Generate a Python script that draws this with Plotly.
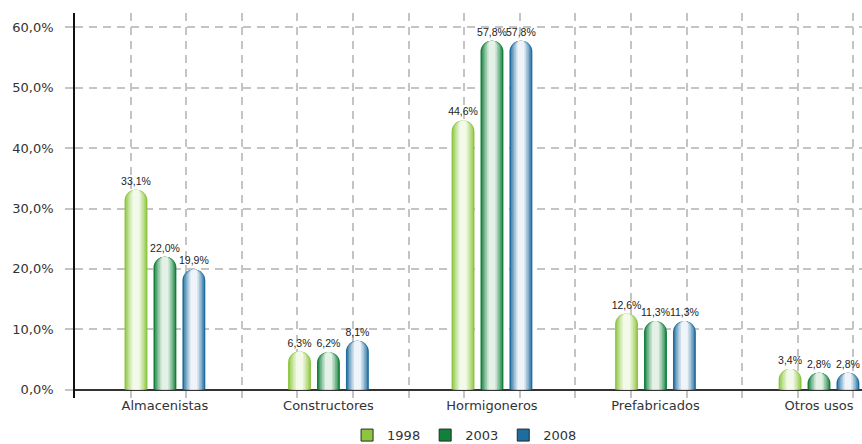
import plotly.graph_objects as go

# Market share by customer segment
categories = ["Almacenistas", "Constructores", "Hormigoneros", "Prefabricados", "Otros usos"]
years = ["1998", "2003", "2008"]
share_1998 = [33.1, 6.3, 44.6, 12.6, 3.4]
share_2003 = [22.0, 6.2, 57.8, 11.3, 2.8]
share_2008 = [19.9, 8.1, 57.8, 11.3, 2.8]
y_ticks = [0, 10, 20, 30, 40, 50, 60]

series = [share_1998, share_2003, share_2008]
# edge colour -> centre highlight for the cylinder look
edge_colors = ["#8cc63f", "#10803b", "#1f6c9e"]
centre_colors = ["#f4faea", "#e4f1e7", "#eef4f9"]

bar_w = 0.14
centres = [-0.177, 0.0, 0.177]
layer_fracs = [1.0, 0.86, 0.72, 0.58, 0.44, 0.30]


def hex_to_rgb(h):
    h = h.lstrip("#")
    return tuple(int(h[i:i + 2], 16) for i in (0, 2, 4))


def mix(c1, c2, t):
    a, b = hex_to_rgb(c1), hex_to_rgb(c2)
    return "rgb(%d,%d,%d)" % tuple(round(a[i] + (b[i] - a[i]) * t) for i in range(3))


def fmt(v):
    return ("%.1f" % v).replace(".", ",") + "%"


fig = go.Figure()

for s, vals in enumerate(series):
    n = len(layer_fracs)
    for k, f in enumerate(layer_fracs):
        w = bar_w * f
        t = (k / (n - 1)) ** 0.8
        fig.add_trace(go.Bar(
            x=categories,
            y=vals,
            width=[w] * len(vals),
            offset=[centres[s] - w / 2] * len(vals),
            marker=dict(color=mix(edge_colors[s], centre_colors[s], t),
                        line=dict(width=0), cornerradius="50%"),
            text=[fmt(v) for v in vals] if k == 0 else None,
            textposition="outside" if k == 0 else "none",
            textangle=0,
            constraintext="none",
            cliponaxis=False,
            textfont=dict(family="Liberation Sans Narrow, Arial Narrow, Liberation Sans, sans-serif",
                          size=10.5, color="#222222"),
            showlegend=False,
            hoverinfo="skip",
        ))

# legend entries
for s, name in enumerate(years):
    fig.add_trace(go.Scatter(
        x=[None], y=[None], mode="markers", name=name,
        marker=dict(symbol="square", size=12, color=edge_colors[s],
                    line=dict(color="#2a2a2a", width=1)),
    ))

# invisible trace on the overlay axis carrying the vertical grid
fig.add_trace(go.Scatter(x=[], y=[], xaxis="x2", showlegend=False))

grid_color = "#c4c4c4"
fig.update_layout(
    width=862, height=444,
    margin=dict(l=75, r=0, t=13, b=46, autoexpand=False),
    paper_bgcolor="white", plot_bgcolor="white",
    barmode="overlay",
    separators=",.",
    font=dict(family="DejaVu Sans, Verdana, sans-serif", size=13, color="#333333"),
    xaxis=dict(
        type="category", range=[-0.55, 4.263],
        showgrid=False, zeroline=False, showline=False, ticks="",
        tickfont=dict(size=13, color="#333333"),
        ticklabelstandoff=-2,
        automargin=False,
    ),
    xaxis2=dict(
        overlaying="x", range=[0, 787 / 55.6], dtick=1, tick0=0,
        showgrid=True, gridcolor=grid_color, gridwidth=1.5, griddash="8px,6px",
        showticklabels=False, zeroline=False, showline=False, ticks="",
    ),
    yaxis=dict(
        range=[-1.4, 62.4],
        tickvals=y_ticks, ticktext=[fmt(v) for v in y_ticks],
        showgrid=True, gridcolor=grid_color, gridwidth=1.5, griddash="8px,6px",
        showline=True, linecolor="#111111", linewidth=1.5,
        ticks="outside", ticklen=8, tickcolor=grid_color, tickwidth=1.5,
        ticklabelstandoff=9,
        zeroline=True, zerolinecolor="#333333", zerolinewidth=1.5,
        tickfont=dict(size=13, color="#333333"),
        automargin=False,
    ),
    legend=dict(
        orientation="h", x=0.495, xanchor="center",
        yref="container", y=0.02, yanchor="middle",
        font=dict(size=13, color="#333333"), itemwidth=30,
        bgcolor="rgba(0,0,0,0)",
    ),
)

fig.write_html("out.html")
